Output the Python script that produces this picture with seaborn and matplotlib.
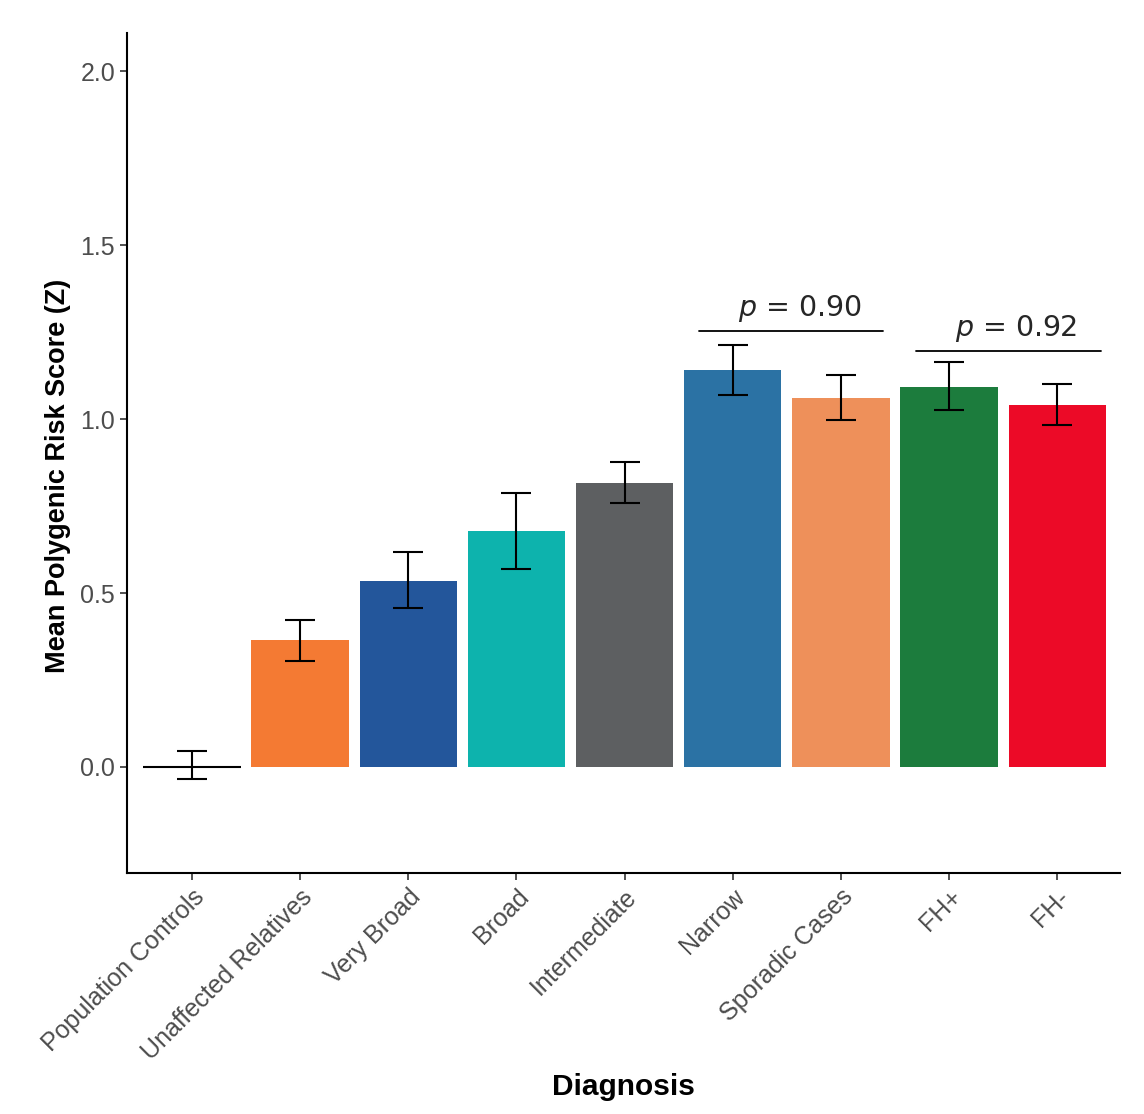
import numpy as np
import pandas as pd
import seaborn as sns
import matplotlib.pyplot as plt

diagnosis = ["Population Controls", "Unaffected Relatives", "Very Broad", "Broad",
             "Intermediate", "Narrow", "Sporadic Cases", "FH+", "FH-"]
mean_prs = [0.0, 0.365, 0.534, 0.678, 0.816, 1.141, 1.060, 1.092, 1.040]
ci_low = [-0.035, 0.305, 0.457, 0.569, 0.759, 1.069, 0.997, 1.026, 0.983]
ci_high = [0.045, 0.422, 0.618, 0.787, 0.876, 1.213, 1.126, 1.164, 1.101]
bar_colors = ["#FFFFFF", "#F47A33", "#23569B", "#0DB3AD", "#5D5F61",
              "#2B72A4", "#EE905A", "#1C7C3D", "#EC0A27"]

# comparisons: (left index, right index, bar height, label)
comparisons = [(4.69, 6.39, 1.253, "0.90"), (6.69, 8.40, 1.195, "0.92")]

df = pd.DataFrame({"Diagnosis": diagnosis, "PRS": mean_prs})

sns.set_theme(style="white")
plt.rcParams["font.family"] = ["Liberation Sans", "DejaVu Sans"]

fig = plt.figure(figsize=(11.44, 11.14), dpi=100)
ax = fig.add_axes([0.111, 0.2163, 0.868, 0.7541])

sns.barplot(data=df, x="Diagnosis", y="PRS", hue="Diagnosis",
            palette=bar_colors, width=0.9, errorbar=None, legend=False,
            saturation=1, linewidth=0, ax=ax)

# zero-height control bar shows as a black line
p0 = ax.patches[0]
p0.set_edgecolor("black")
p0.set_linewidth(1.5)

x = np.arange(len(diagnosis))
means = np.array(mean_prs)
yerr = [means - np.array(ci_low), np.array(ci_high) - means]
ax.errorbar(x, means, yerr=yerr, fmt="none", ecolor="black",
            elinewidth=1.5, capsize=10.5, capthick=1.5)

for x0, x1, yb, lab in comparisons:
    ax.plot([x0, x1], [yb, yb], color="black", lw=1.3)
    ax.text((x0 + x1) / 2 + 0.08, yb + 0.02, r"$\it{p}$ = " + lab,
            ha="center", va="bottom", fontsize=20.5, family="DejaVu Sans")

ax.set_xlim(-0.6, 8.58)
ax.set_ylim(-0.305, 2.11)
ax.set_yticks([0.0, 0.5, 1.0, 1.5, 2.0])
ax.set_yticklabels(["0.0", "0.5", "1.0", "1.5", "2.0"])

ax.tick_params(axis="both", colors="#333333", labelsize=18, length=5,
               width=1.2, left=True, bottom=True)
ax.tick_params(axis="both", labelcolor="#4D4D4D")
plt.setp(ax.get_xticklabels(), rotation=45, ha="right", rotation_mode="anchor")

ax.set_xlabel("Diagnosis", fontsize=21.5, fontweight="bold", labelpad=6, color="black")
ax.set_ylabel("Mean Polygenic Risk Score (Z)", fontsize=19.5, fontweight="bold",
              color="black")
ax.yaxis.set_label_coords(-0.056, 0.4726)

sns.despine(ax=ax)
for s in ["left", "bottom"]:
    ax.spines[s].set_color("black")
    ax.spines[s].set_linewidth(1.5)

fig.savefig("out.png", dpi=100)
